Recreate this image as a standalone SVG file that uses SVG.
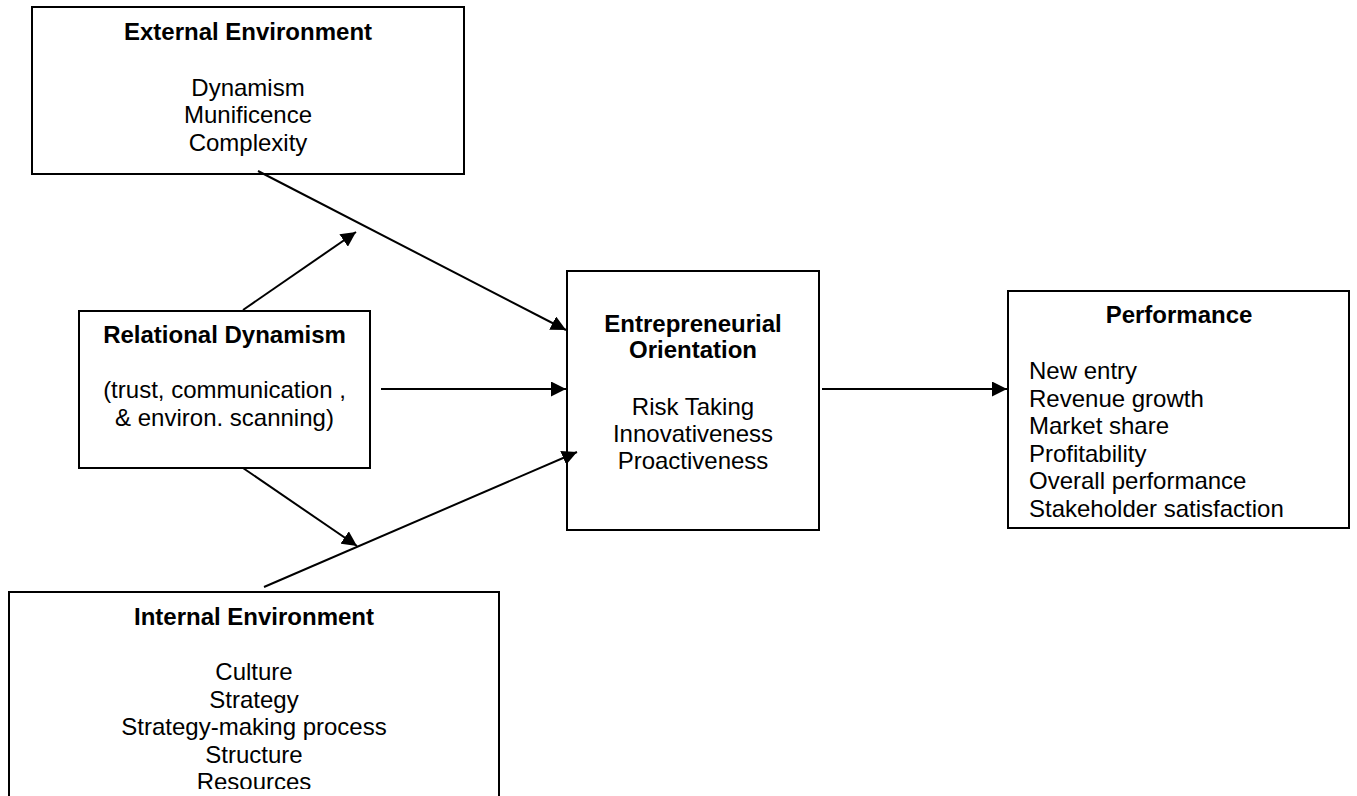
<svg xmlns="http://www.w3.org/2000/svg" width="1357" height="796" viewBox="0 0 1357 796">
<style>
.box{fill:#fff;stroke:#000;stroke-width:2}
.t{font-family:"Liberation Sans",Arial,sans-serif;font-size:24px;fill:#000}
.c{text-anchor:middle}
.b{font-weight:bold}
.ln{stroke:#000;stroke-width:2;fill:none;marker-end:url(#ah)}
</style>
<defs>
<marker id="ah" markerUnits="userSpaceOnUse" markerWidth="16" markerHeight="15" refX="15" refY="7.5" orient="auto">
<path d="M0,0 L15,7.5 L0,15 Z" fill="#000"/>
</marker>
<clipPath id="clipBottom"><rect x="0" y="0" width="1357" height="789"/></clipPath>
</defs>
<rect width="1357" height="796" fill="#fff"/>

<g id="external-environment">
<rect class="box" x="32" y="7" width="432" height="167"/>
<text class="t c b" x="248" y="40">External Environment</text>
<text class="t c" x="248" y="96">Dynamism</text>
<text class="t c" x="248" y="123">Munificence</text>
<text class="t c" x="248" y="151">Complexity</text>
</g>

<g id="relational-dynamism">
<rect class="box" x="79" y="311" width="291" height="157"/>
<text class="t c b" x="224.5" y="343">Relational Dynamism</text>
<text class="t c" x="224.5" y="398">(trust, communication ,</text>
<text class="t c" x="224.5" y="426">&amp; environ. scanning)</text>
</g>

<g id="entrepreneurial-orientation">
<rect class="box" x="567" y="271" width="252" height="259"/>
<text class="t c b" x="693" y="332">Entrepreneurial</text>
<text class="t c b" x="693" y="358">Orientation</text>
<text class="t c" x="693" y="415">Risk Taking</text>
<text class="t c" x="693" y="442">Innovativeness</text>
<text class="t c" x="693" y="469">Proactiveness</text>
</g>

<g id="performance">
<rect class="box" x="1008" y="291" width="341" height="237"/>
<text class="t c b" x="1179" y="323">Performance</text>
<text class="t" x="1029" y="379">New entry</text>
<text class="t" x="1029" y="407">Revenue growth</text>
<text class="t" x="1029" y="434">Market share</text>
<text class="t" x="1029" y="462">Profitability</text>
<text class="t" x="1029" y="489">Overall performance</text>
<text class="t" x="1029" y="517">Stakeholder satisfaction</text>
</g>

<g id="internal-environment">
<path d="M9,800 L9,592 L499,592 L499,800" fill="#fff" stroke="#000" stroke-width="2"/>
<text class="t c b" x="254" y="625">Internal Environment</text>
<text class="t c" x="254" y="680">Culture</text>
<text class="t c" x="254" y="708">Strategy</text>
<text class="t c" x="254" y="735">Strategy-making process</text>
<text class="t c" x="254" y="763">Structure</text>
<text class="t c" x="254" y="790" clip-path="url(#clipBottom)">Resources</text>
</g>

<g id="connectors">
<line class="ln" x1="258" y1="171" x2="566" y2="330"/>
<line class="ln" x1="243" y1="310" x2="356" y2="232"/>
<line class="ln" x1="381" y1="389" x2="566" y2="389"/>
<line class="ln" x1="243" y1="468" x2="357" y2="546"/>
<line class="ln" x1="264" y1="587" x2="577" y2="452"/>
<line class="ln" x1="822" y1="389" x2="1007" y2="389"/>
</g>
</svg>
